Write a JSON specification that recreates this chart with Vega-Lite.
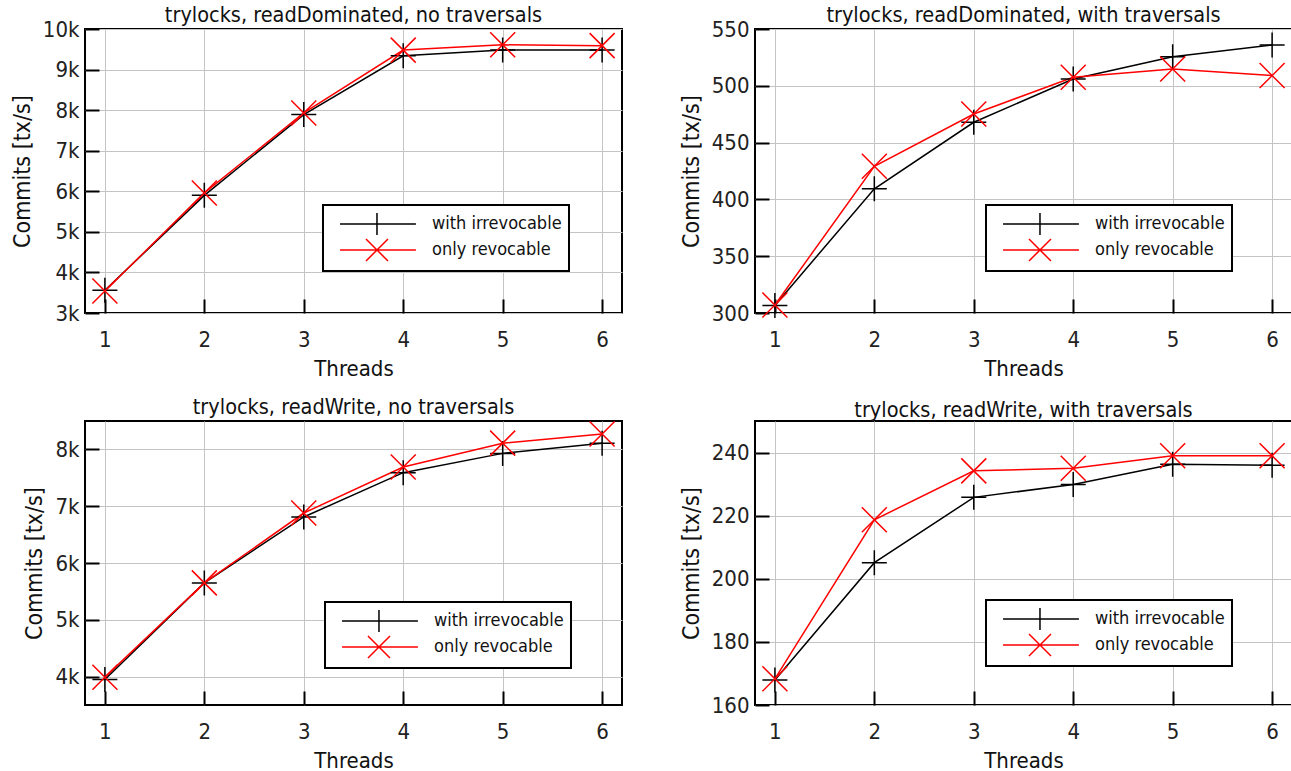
{
  "$schema": "https://vega.github.io/schema/vega-lite/v6.json",
  "background": "white",
  "padding": {"left": 10, "top": 3, "right": 0, "bottom": 0},
  "datasets": {
    "d": [
      {"panel": "p1", "threads": 1, "series": "with irrevocable", "commits": 3560},
      {"panel": "p1", "threads": 2, "series": "with irrevocable", "commits": 5900},
      {"panel": "p1", "threads": 3, "series": "with irrevocable", "commits": 7890},
      {"panel": "p1", "threads": 4, "series": "with irrevocable", "commits": 9340},
      {"panel": "p1", "threads": 5, "series": "with irrevocable", "commits": 9480},
      {"panel": "p1", "threads": 6, "series": "with irrevocable", "commits": 9480},
      {"panel": "p1", "threads": 1, "series": "only revocable", "commits": 3540},
      {"panel": "p1", "threads": 2, "series": "only revocable", "commits": 5960},
      {"panel": "p1", "threads": 3, "series": "only revocable", "commits": 7930},
      {"panel": "p1", "threads": 4, "series": "only revocable", "commits": 9480},
      {"panel": "p1", "threads": 5, "series": "only revocable", "commits": 9610},
      {"panel": "p1", "threads": 6, "series": "only revocable", "commits": 9590},
      {"panel": "p2", "threads": 1, "series": "with irrevocable", "commits": 306.7},
      {"panel": "p2", "threads": 2, "series": "with irrevocable", "commits": 409.3},
      {"panel": "p2", "threads": 3, "series": "with irrevocable", "commits": 467.9},
      {"panel": "p2", "threads": 4, "series": "with irrevocable", "commits": 506},
      {"panel": "p2", "threads": 5, "series": "with irrevocable", "commits": 525.5},
      {"panel": "p2", "threads": 6, "series": "with irrevocable", "commits": 536},
      {"panel": "p2", "threads": 1, "series": "only revocable", "commits": 307},
      {"panel": "p2", "threads": 2, "series": "only revocable", "commits": 429.2},
      {"panel": "p2", "threads": 3, "series": "only revocable", "commits": 475.2},
      {"panel": "p2", "threads": 4, "series": "only revocable", "commits": 507.5},
      {"panel": "p2", "threads": 5, "series": "only revocable", "commits": 514.8},
      {"panel": "p2", "threads": 6, "series": "only revocable", "commits": 509},
      {"panel": "p3", "threads": 1, "series": "with irrevocable", "commits": 3950},
      {"panel": "p3", "threads": 2, "series": "with irrevocable", "commits": 5650},
      {"panel": "p3", "threads": 3, "series": "with irrevocable", "commits": 6810},
      {"panel": "p3", "threads": 4, "series": "with irrevocable", "commits": 7590},
      {"panel": "p3", "threads": 5, "series": "with irrevocable", "commits": 7930},
      {"panel": "p3", "threads": 6, "series": "with irrevocable", "commits": 8110},
      {"panel": "p3", "threads": 1, "series": "only revocable", "commits": 3990},
      {"panel": "p3", "threads": 2, "series": "only revocable", "commits": 5650},
      {"panel": "p3", "threads": 3, "series": "only revocable", "commits": 6880},
      {"panel": "p3", "threads": 4, "series": "only revocable", "commits": 7690},
      {"panel": "p3", "threads": 5, "series": "only revocable", "commits": 8110},
      {"panel": "p3", "threads": 6, "series": "only revocable", "commits": 8270},
      {"panel": "p4", "threads": 1, "series": "with irrevocable", "commits": 167.9},
      {"panel": "p4", "threads": 2, "series": "with irrevocable", "commits": 205.1},
      {"panel": "p4", "threads": 3, "series": "with irrevocable", "commits": 225.8},
      {"panel": "p4", "threads": 4, "series": "with irrevocable", "commits": 229.9},
      {"panel": "p4", "threads": 5, "series": "with irrevocable", "commits": 236.3},
      {"panel": "p4", "threads": 6, "series": "with irrevocable", "commits": 236.0},
      {"panel": "p4", "threads": 1, "series": "only revocable", "commits": 168.3},
      {"panel": "p4", "threads": 2, "series": "only revocable", "commits": 218.7},
      {"panel": "p4", "threads": 3, "series": "only revocable", "commits": 234.2},
      {"panel": "p4", "threads": 4, "series": "only revocable", "commits": 235.0},
      {"panel": "p4", "threads": 5, "series": "only revocable", "commits": 239.0},
      {"panel": "p4", "threads": 6, "series": "only revocable", "commits": 239.0}
    ]
  },
  "data": {"name": "d"},
  "spacing": 16,
  "resolve": {"scale": {"color": "independent"}},
  "vconcat": [
    {
      "hconcat": [
        {
          "width": 537, "height": 284,
          "title": {"text": "trylocks, readDominated, no traversals", "offset": -8},
          "transform": [{"filter": "datum.panel === 'p1'"}],
          "encoding": {
            "x": {"field": "threads", "type": "quantitative", "scale": {"domain": [0.8, 6.2], "nice": false, "zero": false}, "axis": {"values": [1, 2, 3, 4, 5, 6], "title": "Threads"}},
            "y": {"field": "commits", "type": "quantitative", "scale": {"domain": [3000, 10000], "nice": false, "zero": false}, "axis": {"values": [3000, 4000, 5000, 6000, 7000, 8000, 9000, 10000], "labelExpr": "datum.value / 1000 + 'k'", "title": "Commits [tx/s]"}},
            "color": {"field": "series", "type": "nominal", "scale": {"domain": ["with irrevocable", "only revocable"], "range": ["#000000", "#ff0000"]},
              "legend": {"orient": "none", "legendX": 238, "legendY": 176, "title": null, "padding": 7, "strokeColor": "black", "fillColor": "white", "symbolSize": 484, "symbolStrokeWidth": 1.5, "labelFontSize": 18, "labelOffset": 78, "rowPadding": -5,
                "encode": {"symbols": {"update": {"shape": {"signal": "datum.value === 'with irrevocable' ? 'M-0.18,0L6.72,0M3.18,-1L3.18,1' : 'M-0.18,0L6.72,0M2.18,-1L4.18,1M2.18,1L4.18,-1'"}}}, "legend": {"update": {"strokeWidth": {"value": 2}}}}}}
          },
          "layer": [
            {"mark": {"type": "line", "strokeWidth": 1.5}},
            {"transform": [{"filter": "datum.series === 'with irrevocable'"}], "mark": {"type": "point", "shape": "M-1,0L1,0M0,-1L0,1", "filled": false, "size": 625, "strokeWidth": 1.5, "opacity": 1}},
            {"transform": [{"filter": "datum.series === 'only revocable'"}], "mark": {"type": "point", "shape": "M-1,-1L1,1M-1,1L1,-1", "filled": false, "size": 625, "strokeWidth": 1.5, "opacity": 1}}
          ]
        },
        {
          "width": 537, "height": 284,
          "title": {"text": "trylocks, readDominated, with traversals", "offset": -8},
          "transform": [{"filter": "datum.panel === 'p2'"}],
          "encoding": {
            "x": {"field": "threads", "type": "quantitative", "scale": {"domain": [0.8, 6.2], "nice": false, "zero": false}, "axis": {"values": [1, 2, 3, 4, 5, 6], "title": "Threads"}},
            "y": {"field": "commits", "type": "quantitative", "scale": {"domain": [300, 550], "nice": false, "zero": false}, "axis": {"values": [300, 350, 400, 450, 500, 550], "title": "Commits [tx/s]"}},
            "color": {"field": "series", "type": "nominal", "scale": {"domain": ["with irrevocable", "only revocable"], "range": ["#000000", "#ff0000"]},
              "legend": {"orient": "none", "legendX": 231, "legendY": 176, "title": null, "padding": 7, "strokeColor": "black", "fillColor": "white", "symbolSize": 484, "symbolStrokeWidth": 1.5, "labelFontSize": 18, "labelOffset": 78, "rowPadding": -5,
                "encode": {"symbols": {"update": {"shape": {"signal": "datum.value === 'with irrevocable' ? 'M-0.18,0L6.72,0M3.18,-1L3.18,1' : 'M-0.18,0L6.72,0M2.18,-1L4.18,1M2.18,1L4.18,-1'"}}}, "legend": {"update": {"strokeWidth": {"value": 2}}}}}}
          },
          "layer": [
            {"mark": {"type": "line", "strokeWidth": 1.5}},
            {"transform": [{"filter": "datum.series === 'with irrevocable'"}], "mark": {"type": "point", "shape": "M-1,0L1,0M0,-1L0,1", "filled": false, "size": 625, "strokeWidth": 1.5, "opacity": 1}},
            {"transform": [{"filter": "datum.series === 'only revocable'"}], "mark": {"type": "point", "shape": "M-1,-1L1,1M-1,1L1,-1", "filled": false, "size": 625, "strokeWidth": 1.5, "opacity": 1}}
          ]
        }
      ],
      "spacing": 56,
      "resolve": {"scale": {"color": "independent"}}
    },
    {
      "hconcat": [
        {
          "width": 537, "height": 284,
          "title": {"text": "trylocks, readWrite, no traversals", "offset": 0},
          "transform": [{"filter": "datum.panel === 'p3'"}],
          "encoding": {
            "x": {"field": "threads", "type": "quantitative", "scale": {"domain": [0.8, 6.2], "nice": false, "zero": false}, "axis": {"values": [1, 2, 3, 4, 5, 6], "title": "Threads"}},
            "y": {"field": "commits", "type": "quantitative", "scale": {"domain": [3500, 8500], "nice": false, "zero": false}, "axis": {"values": [4000, 5000, 6000, 7000, 8000], "labelExpr": "datum.value / 1000 + 'k'", "title": "Commits [tx/s]"}},
            "color": {"field": "series", "type": "nominal", "scale": {"domain": ["with irrevocable", "only revocable"], "range": ["#000000", "#ff0000"]},
              "legend": {"orient": "none", "legendX": 240, "legendY": 181, "title": null, "padding": 7, "strokeColor": "black", "fillColor": "white", "symbolSize": 484, "symbolStrokeWidth": 1.5, "labelFontSize": 18, "labelOffset": 78, "rowPadding": -5,
                "encode": {"symbols": {"update": {"shape": {"signal": "datum.value === 'with irrevocable' ? 'M-0.18,0L6.72,0M3.18,-1L3.18,1' : 'M-0.18,0L6.72,0M2.18,-1L4.18,1M2.18,1L4.18,-1'"}}}, "legend": {"update": {"strokeWidth": {"value": 2}}}}}}
          },
          "layer": [
            {"mark": {"type": "line", "strokeWidth": 1.5}},
            {"transform": [{"filter": "datum.series === 'with irrevocable'"}], "mark": {"type": "point", "shape": "M-1,0L1,0M0,-1L0,1", "filled": false, "size": 625, "strokeWidth": 1.5, "opacity": 1}},
            {"transform": [{"filter": "datum.series === 'only revocable'"}], "mark": {"type": "point", "shape": "M-1,-1L1,1M-1,1L1,-1", "filled": false, "size": 625, "strokeWidth": 1.5, "opacity": 1}}
          ]
        },
        {
          "width": 537, "height": 284,
          "title": {"text": "trylocks, readWrite, with traversals", "offset": 0},
          "transform": [{"filter": "datum.panel === 'p4'"}],
          "encoding": {
            "x": {"field": "threads", "type": "quantitative", "scale": {"domain": [0.8, 6.2], "nice": false, "zero": false}, "axis": {"values": [1, 2, 3, 4, 5, 6], "title": "Threads"}},
            "y": {"field": "commits", "type": "quantitative", "scale": {"domain": [160, 250], "nice": false, "zero": false}, "axis": {"values": [160, 180, 200, 220, 240], "title": "Commits [tx/s]"}},
            "color": {"field": "series", "type": "nominal", "scale": {"domain": ["with irrevocable", "only revocable"], "range": ["#000000", "#ff0000"]},
              "legend": {"orient": "none", "legendX": 231, "legendY": 179, "title": null, "padding": 7, "strokeColor": "black", "fillColor": "white", "symbolSize": 484, "symbolStrokeWidth": 1.5, "labelFontSize": 18, "labelOffset": 78, "rowPadding": -5,
                "encode": {"symbols": {"update": {"shape": {"signal": "datum.value === 'with irrevocable' ? 'M-0.18,0L6.72,0M3.18,-1L3.18,1' : 'M-0.18,0L6.72,0M2.18,-1L4.18,1M2.18,1L4.18,-1'"}}}, "legend": {"update": {"strokeWidth": {"value": 2}}}}}}
          },
          "layer": [
            {"mark": {"type": "line", "strokeWidth": 1.5}},
            {"transform": [{"filter": "datum.series === 'with irrevocable'"}], "mark": {"type": "point", "shape": "M-1,0L1,0M0,-1L0,1", "filled": false, "size": 625, "strokeWidth": 1.5, "opacity": 1}},
            {"transform": [{"filter": "datum.series === 'only revocable'"}], "mark": {"type": "point", "shape": "M-1,-1L1,1M-1,1L1,-1", "filled": false, "size": 625, "strokeWidth": 1.5, "opacity": 1}}
          ]
        }
      ],
      "spacing": 56,
      "resolve": {"scale": {"color": "independent"}}
    }
  ],
  "config": {
    "font": "DejaVu Sans Condensed",
    "view": {"stroke": "black", "strokeWidth": 2},
    "title": {"fontSize": 21.5, "fontWeight": "normal", "color": "#111"},
    "axis": {
      "grid": true, "gridColor": "#c4c4c4", "gridWidth": 1,
      "domain": false,
      "tickColor": "black", "tickWidth": 2, "tickSize": -14,
      "labelFontSize": 22, "labelColor": "#222", "labelPadding": 20,
      "titleFontSize": 22, "titleFontWeight": "normal", "titleColor": "#111"
    },
    "axisY": {"titlePadding": 8, "titleFontSize": 23},
    "axisX": {"titlePadding": 8, "labelPadding": 30},
    "legend": {"labelFont": "DejaVu Sans Condensed", "labelColor": "#111"}
  }
}
